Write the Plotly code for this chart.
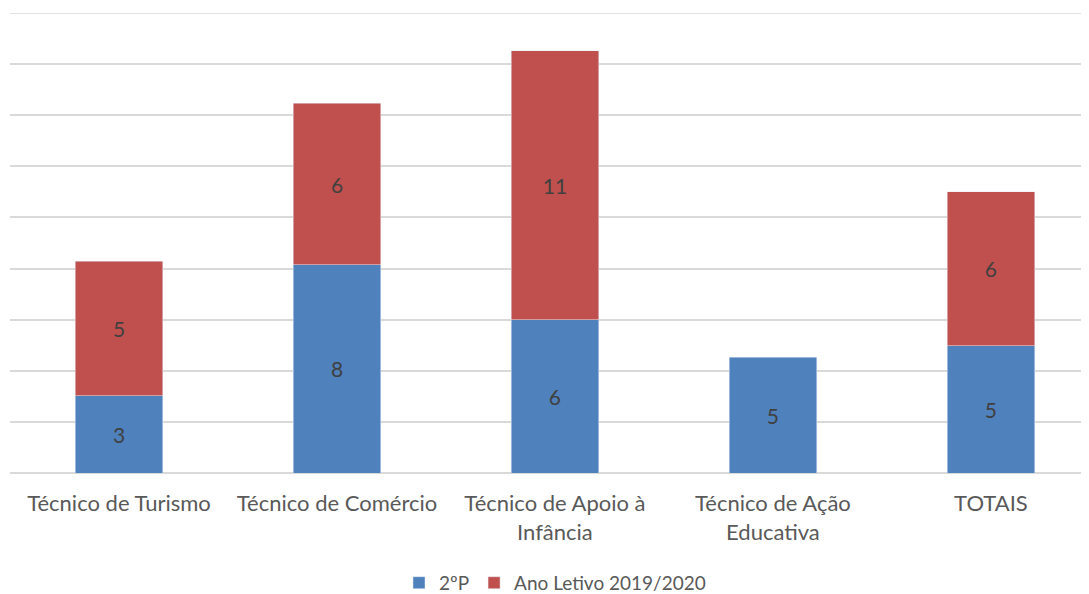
import plotly.graph_objects as go

cursos = ["Técnico de Turismo", "Técnico de Comércio", "Técnico de Apoio à<br>Infância",
          "Técnico de Ação<br>Educativa", "TOTAIS"]
p2 = [3.02, 8.14, 6.0, 4.52, 4.98]
ano_letivo = [5.26, 6.33, 10.52, None, 6.03]

fig = go.Figure()
fig.add_trace(go.Bar(x=cursos, y=p2, name="2ºP", marker_color="#4F81BD",
                     texttemplate="%{y:.0f}", textposition="inside", insidetextanchor="middle",
                     textfont=dict(color="#404040", size=21)))
fig.add_trace(go.Bar(x=cursos, y=ano_letivo, name="Ano Letivo 2019/2020", marker_color="#C0504D",
                     texttemplate="%{y:.0f}", textposition="inside", insidetextanchor="middle",
                     textfont=dict(color="#404040", size=21)))

# the page body adds an 8px offset, so the figure is 8px smaller
fig.update_layout(
    barmode="stack",
    bargap=0.6,
    width=1081, height=586,
    margin=dict(l=2, r=0, t=5, b=121, autoexpand=False),
    plot_bgcolor="white", paper_bgcolor="white",
    font=dict(family="Lato", color="#595959", size=20),
    uniformtext=dict(minsize=21, mode="show"),
    legend=dict(orientation="h", x=0.506, xanchor="center", xref="container",
                y=0.019, yanchor="middle", yref="container", itemwidth=30,
                traceorder="normal", font=dict(size=19)),
    showlegend=True,
)
fig.update_xaxes(range=[-0.5, 4.45], showline=False, ticks="", automargin=False,
                 tickfont=dict(size=22), ticklabelstandoff=15)
fig.update_yaxes(range=[0, 18], dtick=2, showticklabels=False, gridcolor="#d9d9d9",
                 gridwidth=1.5, zeroline=True, zerolinecolor="#d9d9d9", zerolinewidth=2,
                 showline=False, automargin=False)
# top gridline at the edge of the range
fig.add_hline(y=18, line_color="#d9d9d9", line_width=1.5, layer="below")

fig.write_html("out.html")
